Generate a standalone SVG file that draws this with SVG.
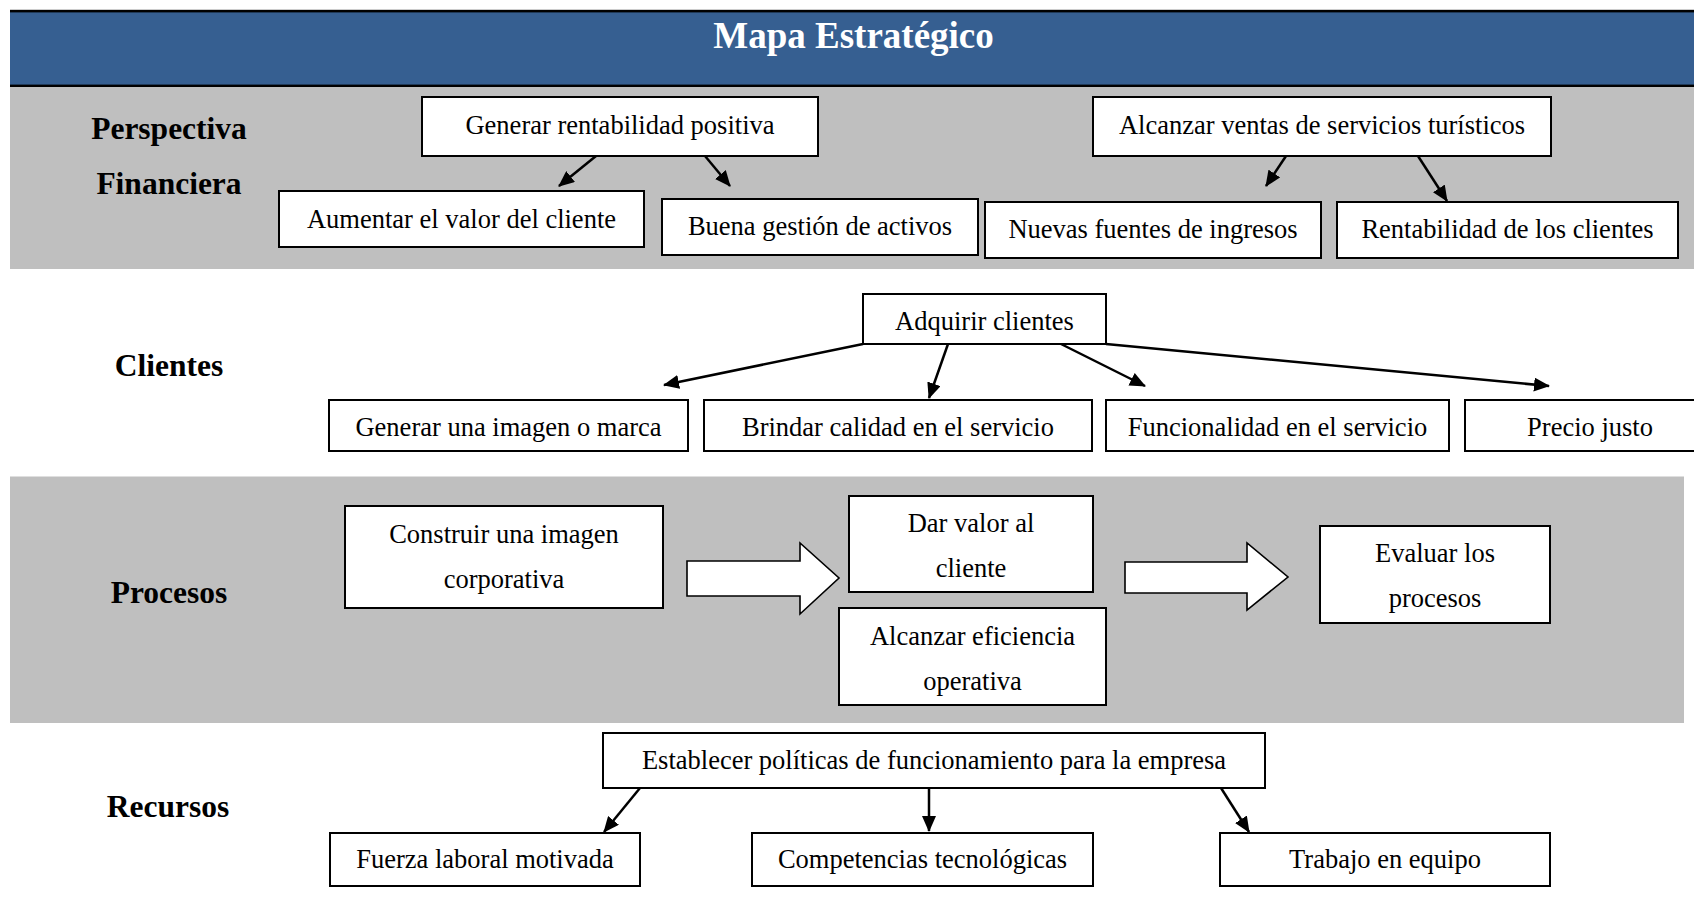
<svg xmlns="http://www.w3.org/2000/svg" width="1694" height="904" viewBox="0 0 1694 904">
<style>
.box{fill:#fff;stroke:#000;stroke-width:2}
.t{font-family:"Liberation Serif","Times New Roman",serif;font-size:26.5px;fill:#000;text-anchor:middle}
.lbl{font-family:"Liberation Serif","Times New Roman",serif;font-size:31.5px;font-weight:bold;fill:#000;text-anchor:middle}
.title{font-family:"Liberation Serif","Times New Roman",serif;font-size:37px;font-weight:bold;fill:#fff;text-anchor:middle}
.con{stroke:#000;stroke-width:2.5;fill:none;marker-end:url(#ah)}
.blk{fill:#fff;stroke:#000;stroke-width:1.6;stroke-linejoin:miter}
</style>
<defs>
<marker id="ah" viewBox="0 0 16 14" markerWidth="16" markerHeight="14" refX="15" refY="7" orient="auto" markerUnits="userSpaceOnUse">
<path d="M0,0 L16,7 L0,14 z" fill="#000"/>
</marker>
</defs>
<rect width="1694" height="904" fill="#fff"/>
<g id="bands">
<rect x="10" y="12" width="1684" height="73" fill="#365F91"/>
<rect x="10" y="9.8" width="1684" height="2.6" fill="#000"/>
<rect x="10" y="84.6" width="1684" height="2.6" fill="#000"/>
<rect x="10" y="87" width="1684" height="182" fill="#BFBFBF"/>
<rect x="10" y="476.5" width="1674" height="246.5" fill="#BFBFBF"/>
<text class="title" x="853.5" y="48">Mapa Estratégico</text>
</g>
<g id="labels">
<text class="lbl" x="169" y="139">Perspectiva</text>
<text class="lbl" x="169" y="194">Financiera</text>
<text class="lbl" x="169" y="376">Clientes</text>
<text class="lbl" x="169" y="602.5">Procesos</text>
<text class="lbl" x="168" y="817">Recursos</text>
</g>
<g id="connectors">
<line class="con" x1="596" y1="156" x2="559" y2="186"/>
<line class="con" x1="705" y1="156" x2="730" y2="186"/>
<line class="con" x1="1286" y1="156" x2="1266" y2="186"/>
<line class="con" x1="1418" y1="156" x2="1447" y2="201"/>
<line class="con" x1="863" y1="344" x2="664" y2="385"/>
<line class="con" x1="948" y1="344" x2="929" y2="398"/>
<line class="con" x1="1061" y1="344" x2="1145" y2="386"/>
<line class="con" x1="1106" y1="344" x2="1549" y2="386"/>
<line class="con" x1="640" y1="788" x2="604" y2="832"/>
<line class="con" x1="929" y1="788" x2="929" y2="831"/>
<line class="con" x1="1221" y1="788" x2="1249" y2="832"/>
<polygon class="blk" points="687,561 800,561 800,543 839,578 800,614 800,596 687,596"/>
<polygon class="blk" points="1125,562 1247,562 1247,543 1288,577 1247,610 1247,593 1125,593"/>
</g>
<g id="f1"><rect class="box" x="422" y="97" width="396" height="59"/><text class="t" x="620" y="134">Generar rentabilidad positiva</text></g>
<g id="f2"><rect class="box" x="1093" y="97" width="458" height="59"/><text class="t" x="1322" y="134">Alcanzar ventas de servicios turísticos</text></g>
<g id="f3"><rect class="box" x="279" y="191" width="365" height="56"/><text class="t" x="461.5" y="227.5">Aumentar el valor del cliente</text></g>
<g id="f4"><rect class="box" x="662" y="199" width="316" height="56"/><text class="t" x="820" y="234.5">Buena gestión de activos</text></g>
<g id="f5"><rect class="box" x="985" y="202" width="336" height="56"/><text class="t" x="1153" y="237.5">Nuevas fuentes de ingresos</text></g>
<g id="f6"><rect class="box" x="1337" y="202" width="341" height="56"/><text class="t" x="1507.5" y="237.5">Rentabilidad de los clientes</text></g>
<g id="c0"><rect class="box" x="863" y="294" width="243" height="50"/><text class="t" x="984.5" y="330">Adquirir clientes</text></g>
<g id="c1"><rect class="box" x="329" y="400" width="359" height="51"/><text class="t" x="508.5" y="436">Generar una imagen o marca</text></g>
<g id="c2"><rect class="box" x="704" y="400" width="388" height="51"/><text class="t" x="898" y="436">Brindar calidad en el servicio</text></g>
<g id="c3"><rect class="box" x="1106" y="400" width="343" height="51"/><text class="t" x="1277.5" y="436">Funcionalidad en el servicio</text></g>
<g id="c4"><rect class="box" x="1465" y="400" width="252" height="51"/><text class="t" x="1590" y="436">Precio justo</text></g>
<g id="p1"><rect class="box" x="345" y="506" width="318" height="102"/><text class="t" x="504" y="543">Construir una imagen</text><text class="t" x="504" y="588">corporativa</text></g>
<g id="p2"><rect class="box" x="849" y="496" width="244" height="96"/><text class="t" x="971" y="532">Dar valor al</text><text class="t" x="971" y="577">cliente</text></g>
<g id="p3"><rect class="box" x="839" y="608" width="267" height="97"/><text class="t" x="972.5" y="645">Alcanzar eficiencia</text><text class="t" x="972.5" y="690">operativa</text></g>
<g id="p4"><rect class="box" x="1320" y="526" width="230" height="97"/><text class="t" x="1435" y="562">Evaluar los</text><text class="t" x="1435" y="607">procesos</text></g>
<g id="r0"><rect class="box" x="603" y="733" width="662" height="55"/><text class="t" x="934" y="769">Establecer políticas de funcionamiento para la empresa</text></g>
<g id="r1"><rect class="box" x="330" y="833" width="310" height="53"/><text class="t" x="485" y="868">Fuerza laboral motivada</text></g>
<g id="r2"><rect class="box" x="752" y="833" width="341" height="53"/><text class="t" x="922.5" y="868">Competencias tecnológicas</text></g>
<g id="r3"><rect class="box" x="1220" y="833" width="330" height="53"/><text class="t" x="1385" y="868">Trabajo en equipo</text></g>
</svg>
